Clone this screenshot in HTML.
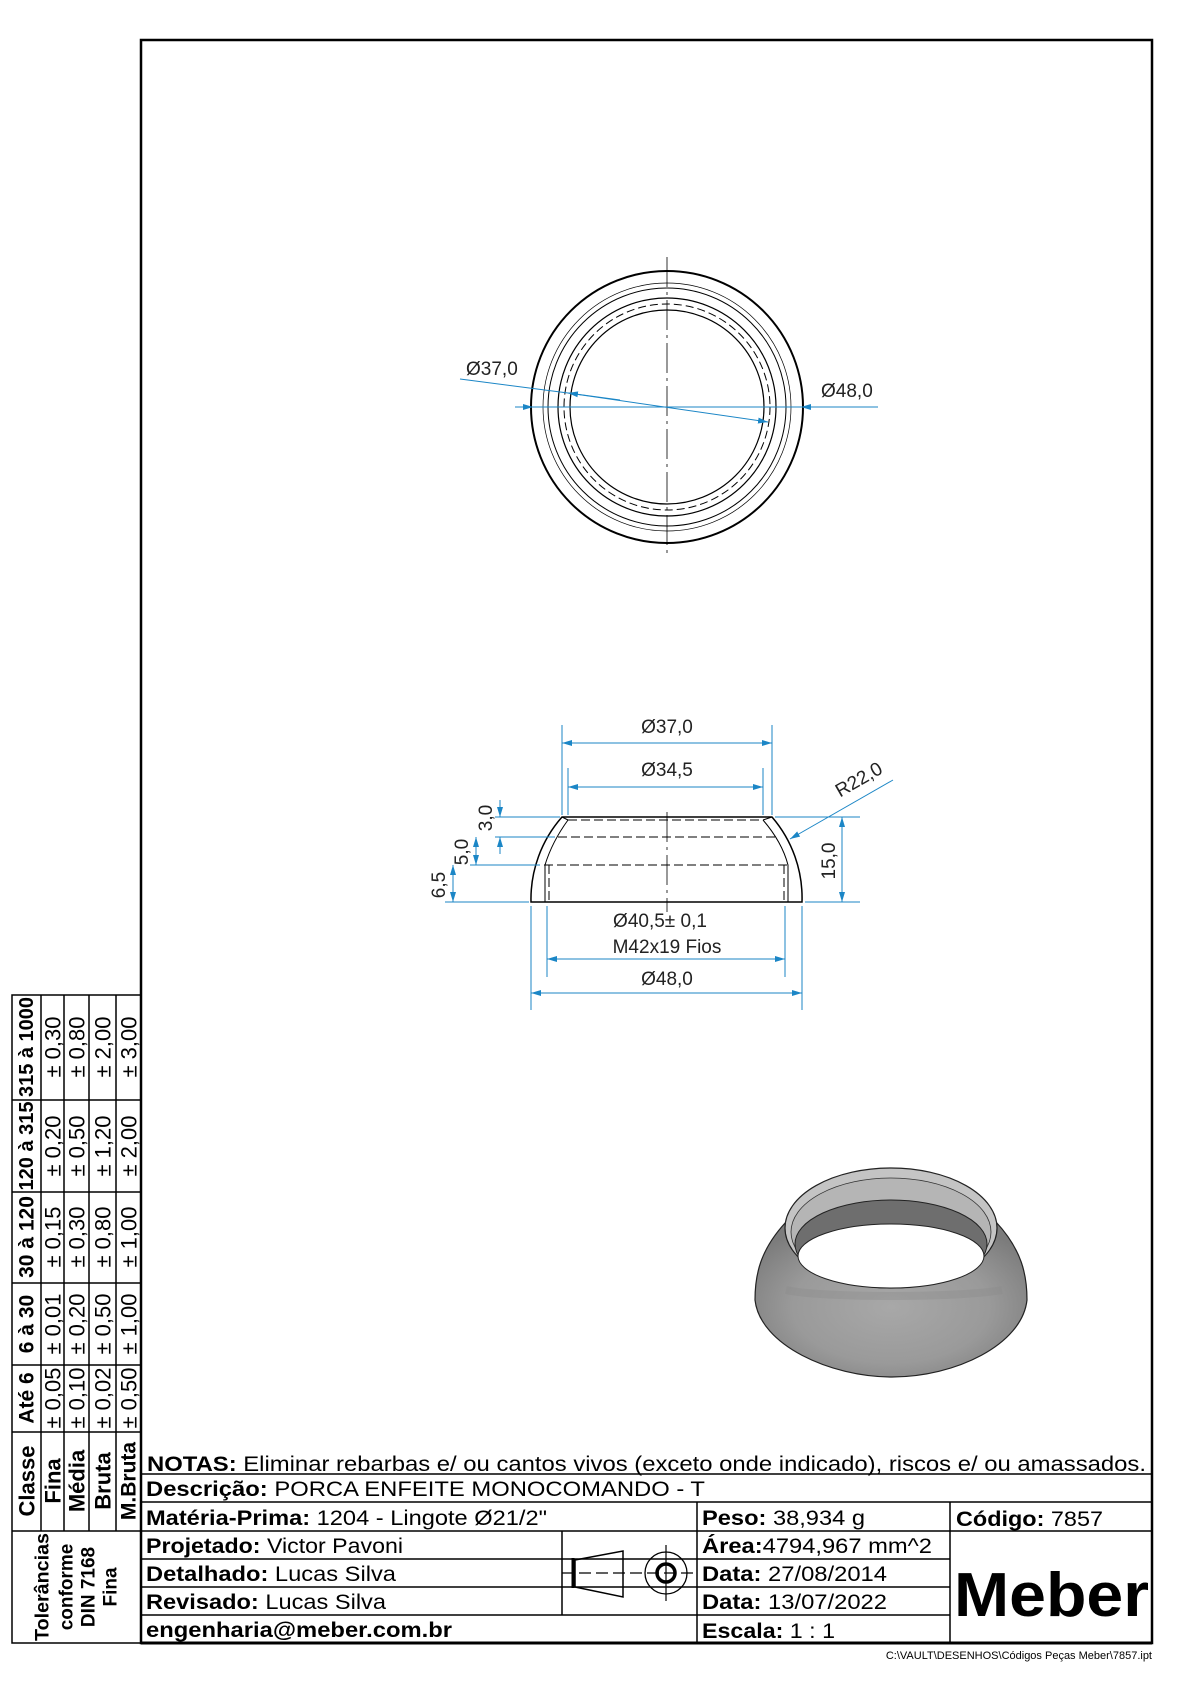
<!DOCTYPE html>
<html><head><meta charset="utf-8"><style>
html,body{margin:0;padding:0;background:#fff;}
svg{display:block;}
text{font-family:"Liberation Sans",Arial,sans-serif;}
</style></head><body>
<svg width="1190" height="1684" viewBox="0 0 1190 1684" xmlns="http://www.w3.org/2000/svg">
<defs>
<marker id="ar" viewBox="0 0 10 6" refX="10" refY="3" markerWidth="10" markerHeight="6" orient="auto-start-reverse" markerUnits="userSpaceOnUse"><path d="M0,0 L10,3 L0,6 z" fill="#1b86c6"/></marker>
<radialGradient id="body" cx="0.5" cy="0.55" r="0.6"><stop offset="0" stop-color="#a8a8a8"/><stop offset="0.6" stop-color="#9a9a9a"/><stop offset="1" stop-color="#7c7c7c"/></radialGradient>
</defs>
<rect width="1190" height="1684" fill="#fff"/>
<rect x="141" y="40" width="1011" height="1603" fill="none" stroke="#000" stroke-width="2.5"/>

<!-- TOP VIEW -->
<g fill="none" stroke="#000">
<circle cx="667" cy="407" r="136" stroke-width="2"/>
<circle cx="667" cy="407" r="124" stroke-width="0.7"/>
<circle cx="667" cy="407" r="119" stroke-width="1"/>
<circle cx="667" cy="407" r="109" stroke-width="1.2"/>
<circle cx="667" cy="407" r="103" stroke-width="1" stroke-dasharray="8,4"/>
<circle cx="667" cy="407" r="97" stroke-width="1.2"/>
<line x1="667" y1="257" x2="667" y2="558" stroke-width="0.8" stroke-dasharray="30,5,3,5"/>
</g>
<g stroke="#1b86c6" stroke-width="1" fill="none">
<line x1="515" y1="407" x2="533" y2="407" marker-end="url(#ar)"/>
<line x1="533" y1="407" x2="801" y2="407"/>
<line x1="878" y1="407" x2="801" y2="407" marker-end="url(#ar)"/>
<line x1="460" y1="379" x2="568" y2="393"/>
<line x1="620" y1="400" x2="568" y2="393" marker-end="url(#ar)"/>
<line x1="568" y1="393" x2="768" y2="422" marker-end="url(#ar)"/>
</g>
<text x="466" y="375" font-size="19" fill="#222">Ø37,0</text>
<text x="821" y="397" font-size="19" fill="#222">Ø48,0</text>

<!-- SECTION VIEW -->
<g fill="none" stroke="#000" stroke-width="1.5">
<path d="M531,902 L802,902 A124,124 0 0 0 772,817 L562,817 A124,124 0 0 0 531,902 Z"/>
<path d="M568,820 Q552,842 545,865 L545,902" stroke-width="1"/>
<path d="M763,820 Q782,842 788,865 L788,902" stroke-width="1"/>
<path d="M562,817 L568,820 M772,817 L763,820" stroke-width="1"/>
</g>
<g fill="none" stroke="#000" stroke-width="1" stroke-dasharray="9,4">
<line x1="568" y1="820" x2="763" y2="820"/>
<line x1="558" y1="837" x2="776" y2="837"/>
<line x1="544" y1="865" x2="789" y2="865"/>
<line x1="549" y1="865" x2="549" y2="902"/>
<line x1="784" y1="865" x2="784" y2="902"/>
</g>
<line x1="667" y1="812" x2="667" y2="912" stroke="#000" stroke-width="0.8" stroke-dasharray="30,5,3,5"/>
<g stroke="#1b86c6" stroke-width="1" fill="none">
<line x1="562" y1="725" x2="562" y2="815"/>
<line x1="772" y1="725" x2="772" y2="815"/>
<line x1="568" y1="768" x2="568" y2="815"/>
<line x1="763" y1="768" x2="763" y2="815"/>
<line x1="667" y1="743" x2="562" y2="743" marker-end="url(#ar)"/>
<line x1="667" y1="743" x2="772" y2="743" marker-end="url(#ar)"/>
<line x1="667" y1="787" x2="568" y2="787" marker-end="url(#ar)"/>
<line x1="667" y1="787" x2="763" y2="787" marker-end="url(#ar)"/>
<line x1="531" y1="906" x2="531" y2="1010"/>
<line x1="802" y1="906" x2="802" y2="1010"/>
<line x1="547" y1="906" x2="547" y2="977"/>
<line x1="785" y1="906" x2="785" y2="977"/>
<line x1="667" y1="959" x2="547" y2="959" marker-end="url(#ar)"/>
<line x1="667" y1="959" x2="785" y2="959" marker-end="url(#ar)"/>
<line x1="667" y1="993" x2="531" y2="993" marker-end="url(#ar)"/>
<line x1="667" y1="993" x2="802" y2="993" marker-end="url(#ar)"/>
<line x1="445" y1="902" x2="529" y2="902"/>
<line x1="470" y1="865" x2="540" y2="865"/>
<line x1="495" y1="837" x2="555" y2="837"/>
<line x1="495" y1="817" x2="560" y2="817"/>
<line x1="500" y1="800" x2="500" y2="817" marker-end="url(#ar)"/>
<line x1="500" y1="854" x2="500" y2="837" marker-end="url(#ar)"/>
<line x1="476" y1="851" x2="476" y2="837" marker-end="url(#ar)"/>
<line x1="476" y1="851" x2="476" y2="865" marker-end="url(#ar)"/>
<line x1="453" y1="884" x2="453" y2="865" marker-end="url(#ar)"/>
<line x1="453" y1="884" x2="453" y2="902" marker-end="url(#ar)"/>
<line x1="775" y1="817" x2="860" y2="817"/>
<line x1="805" y1="902" x2="860" y2="902"/>
<line x1="842" y1="860" x2="842" y2="817" marker-end="url(#ar)"/>
<line x1="842" y1="860" x2="842" y2="902" marker-end="url(#ar)"/>
<line x1="893" y1="780" x2="790" y2="839" marker-end="url(#ar)"/>
</g>
<g font-size="19" fill="#222">
<text x="667" y="733" text-anchor="middle">Ø37,0</text>
<text x="667" y="776" text-anchor="middle">Ø34,5</text>
<text x="660" y="927" text-anchor="middle">Ø40,5± 0,1</text>
<text x="667" y="953" text-anchor="middle">M42x19 Fios</text>
<text x="667" y="985" text-anchor="middle">Ø48,0</text>
<text transform="translate(862,785) rotate(-30)" text-anchor="middle">R22,0</text>
<text transform="translate(492,818) rotate(-90)" text-anchor="middle">3,0</text>
<text transform="translate(468,852) rotate(-90)" text-anchor="middle">5,0</text>
<text transform="translate(445,885) rotate(-90)" text-anchor="middle">6,5</text>
<text transform="translate(835,861) rotate(-90)" text-anchor="middle">15,0</text>
</g>

<!-- 3D render -->
<g>
<path d="M786,1222 C760,1250 755,1275 755,1300 C760,1345 830,1377 892,1377 C955,1377 1022,1345 1027,1300 C1027,1275 1022,1250 996,1222 Z" fill="url(#body)" stroke="#222" stroke-width="1.2"/>
<ellipse cx="891" cy="1228" rx="106" ry="60" fill="#c4c4c4" stroke="#222" stroke-width="1.2"/>
<ellipse cx="891" cy="1232" rx="100" ry="54" fill="#b5b5b5" stroke="#333" stroke-width="0.8"/>
<ellipse cx="891" cy="1244" rx="96" ry="44" fill="#6e6e6e" stroke="#222" stroke-width="1"/>
<ellipse cx="891" cy="1256" rx="93" ry="32" fill="#fff" stroke="#222" stroke-width="1"/>
<path d="M786,1290 C820,1298 960,1298 1002,1290" stroke="#8a8a8a" stroke-width="8" fill="none" opacity="0.35"/>
</g>

<!-- TOLERANCE TABLE -->
<g stroke="#000" stroke-width="1.5" fill="none">
<rect x="12" y="995" width="129" height="648"/>
<line x1="41" y1="995" x2="41" y2="1531"/>
<line x1="64" y1="995" x2="64" y2="1531"/>
<line x1="89" y1="995" x2="89" y2="1531"/>
<line x1="116" y1="995" x2="116" y2="1531"/>
<line x1="12" y1="1100" x2="141" y2="1100"/>
<line x1="12" y1="1192" x2="141" y2="1192"/>
<line x1="12" y1="1283" x2="141" y2="1283"/>
<line x1="12" y1="1365" x2="141" y2="1365"/>
<line x1="12" y1="1432" x2="141" y2="1432"/>
<line x1="12" y1="1531" x2="141" y2="1531"/>
</g>
<g font-size="22" fill="#000" text-anchor="middle" dominant-baseline="central">
<g font-weight="bold" font-size="20">
<text transform="translate(27,1047) rotate(-90)">315 à 1000</text>
<text transform="translate(27,1146) rotate(-90)">120 à 315</text>
<text transform="translate(27,1237) rotate(-90)" font-size="21">30 à 120</text>
<text transform="translate(27,1324) rotate(-90)" font-size="21">6 à 30</text>
<text transform="translate(27,1398) rotate(-90)" font-size="21">Até 6</text>
<text transform="translate(27,1481) rotate(-90)" font-size="22">Classe</text>
<text transform="translate(53,1481) rotate(-90)" font-size="22">Fina</text>
<text transform="translate(77,1481) rotate(-90)" font-size="22">Média</text>
<text transform="translate(103,1481) rotate(-90)" font-size="22">Bruta</text>
<text transform="translate(129,1481) rotate(-90)" font-size="21">M.Bruta</text>
</g>
<text transform="translate(53,1047) rotate(-90)">± 0,30</text>
<text transform="translate(77,1047) rotate(-90)">± 0,80</text>
<text transform="translate(103,1047) rotate(-90)">± 2,00</text>
<text transform="translate(129,1047) rotate(-90)">± 3,00</text>
<text transform="translate(53,1146) rotate(-90)">± 0,20</text>
<text transform="translate(77,1146) rotate(-90)">± 0,50</text>
<text transform="translate(103,1146) rotate(-90)">± 1,20</text>
<text transform="translate(129,1146) rotate(-90)">± 2,00</text>
<text transform="translate(53,1237) rotate(-90)">± 0,15</text>
<text transform="translate(77,1237) rotate(-90)">± 0,30</text>
<text transform="translate(103,1237) rotate(-90)">± 0,80</text>
<text transform="translate(129,1237) rotate(-90)">± 1,00</text>
<text transform="translate(53,1324) rotate(-90)">± 0,01</text>
<text transform="translate(77,1324) rotate(-90)">± 0,20</text>
<text transform="translate(103,1324) rotate(-90)">± 0,50</text>
<text transform="translate(129,1324) rotate(-90)">± 1,00</text>
<text transform="translate(53,1398) rotate(-90)">± 0,05</text>
<text transform="translate(77,1398) rotate(-90)">± 0,10</text>
<text transform="translate(103,1398) rotate(-90)">± 0,02</text>
<text transform="translate(129,1398) rotate(-90)">± 0,50</text>
<g font-weight="bold" font-size="19">
<text transform="translate(43,1587) rotate(-90)" textLength="108" lengthAdjust="spacingAndGlyphs">Tolerâncias</text>
<text transform="translate(67,1587) rotate(-90)">conforme</text>
<text transform="translate(89,1587) rotate(-90)">DIN 7168</text>
<text transform="translate(111,1587) rotate(-90)">Fina</text>
</g>
</g>

<!-- TITLE BLOCK -->
<g stroke="#000" stroke-width="1.5" fill="none">
<line x1="141" y1="1474" x2="1152" y2="1474"/>
<line x1="141" y1="1502" x2="1152" y2="1502"/>
<line x1="141" y1="1531" x2="1152" y2="1531"/>
<line x1="141" y1="1559" x2="697" y2="1559"/>
<line x1="141" y1="1587" x2="950" y2="1587"/>
<line x1="141" y1="1615" x2="950" y2="1615"/>
<line x1="697" y1="1559" x2="950" y2="1559"/>
<line x1="697" y1="1502" x2="697" y2="1643"/>
<line x1="950" y1="1502" x2="950" y2="1643"/>
<line x1="562" y1="1531" x2="562" y2="1615"/>
<line x1="141" y1="1643" x2="1152" y2="1643" stroke-width="3"/>
</g>
<g stroke="#000" fill="none">
<path d="M575,1560 L623,1551 L623,1597 L575,1587 Z" stroke-width="1.5"/>
<line x1="573" y1="1558" x2="573" y2="1588" stroke-width="3"/>
<line x1="562" y1="1573" x2="697" y2="1573" stroke-width="1.2" stroke-dasharray="12,5"/>
<circle cx="666" cy="1573" r="21" stroke-width="1.3"/>
<circle cx="666" cy="1573" r="9" stroke-width="3.5"/>
<line x1="666" y1="1545" x2="666" y2="1601" stroke-width="1.2"/>
</g>
<g font-size="21" fill="#000">
<text x="147" y="1471" textLength="999" lengthAdjust="spacingAndGlyphs"><tspan font-weight="bold">NOTAS:</tspan> Eliminar rebarbas e/ ou cantos vivos (exceto onde indicado), riscos e/ ou amassados.</text>
<text x="146" y="1496" textLength="559" lengthAdjust="spacingAndGlyphs"><tspan font-weight="bold">Descrição:</tspan> PORCA ENFEITE MONOCOMANDO - T</text>
<text x="146" y="1525" textLength="401" lengthAdjust="spacingAndGlyphs"><tspan font-weight="bold">Matéria-Prima:</tspan> 1204 - Lingote Ø21/2"</text>
<text x="146" y="1553" textLength="257" lengthAdjust="spacingAndGlyphs"><tspan font-weight="bold">Projetado:</tspan> Victor Pavoni</text>
<text x="146" y="1581" textLength="250" lengthAdjust="spacingAndGlyphs"><tspan font-weight="bold">Detalhado:</tspan> Lucas Silva</text>
<text x="146" y="1609" textLength="240" lengthAdjust="spacingAndGlyphs"><tspan font-weight="bold">Revisado:</tspan> Lucas Silva</text>
<text x="146" y="1637" font-weight="bold" textLength="306" lengthAdjust="spacingAndGlyphs">engenharia@meber.com.br</text>
<text x="702" y="1525" textLength="163" lengthAdjust="spacingAndGlyphs"><tspan font-weight="bold">Peso:</tspan> 38,934 g</text>
<text x="702" y="1553" textLength="230" lengthAdjust="spacingAndGlyphs"><tspan font-weight="bold">Área:</tspan>4794,967 mm^2</text>
<text x="702" y="1581" textLength="185" lengthAdjust="spacingAndGlyphs"><tspan font-weight="bold">Data:</tspan> 27/08/2014</text>
<text x="702" y="1609" textLength="185" lengthAdjust="spacingAndGlyphs"><tspan font-weight="bold">Data:</tspan> 13/07/2022</text>
<text x="702" y="1638" textLength="133" lengthAdjust="spacingAndGlyphs"><tspan font-weight="bold">Escala:</tspan> 1 : 1</text>
<text x="956" y="1526" textLength="147" lengthAdjust="spacingAndGlyphs"><tspan font-weight="bold">Código:</tspan> 7857</text>
</g>
<text x="954" y="1616" font-size="62" font-weight="bold" textLength="195" lengthAdjust="spacingAndGlyphs">Meber</text>
<text x="1152" y="1659" font-size="11" text-anchor="end" fill="#000">C:\VAULT\DESENHOS\Códigos Peças Meber\7857.ipt</text>
</svg>
</body></html>
